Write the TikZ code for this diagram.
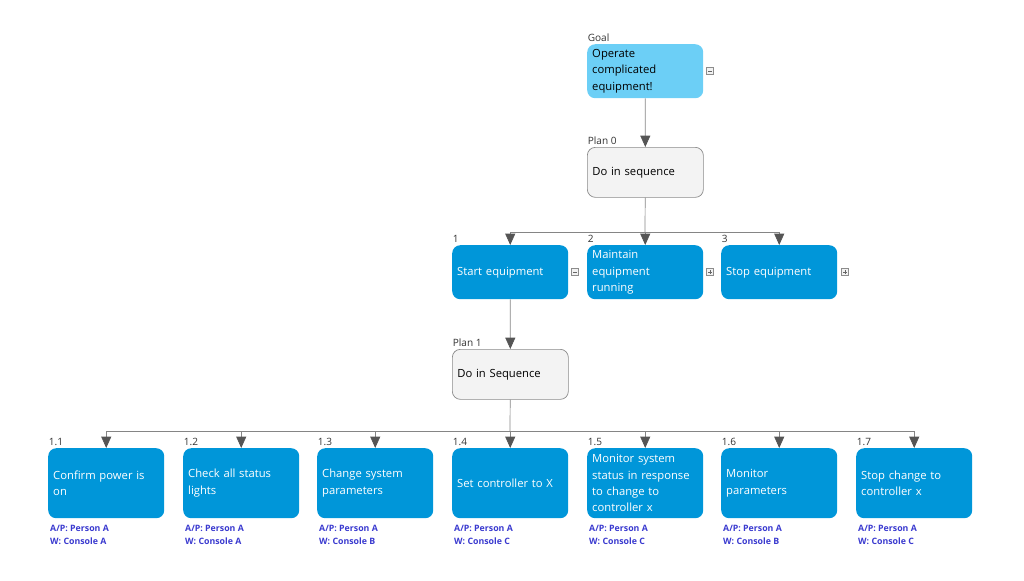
\documentclass[tikz,border=0pt]{standalone}
\usepackage{fontspec}
\setmainfont{Open Sans}
\usetikzlibrary{arrows.meta}
\definecolor{taskblue}{HTML}{0096D9}
\definecolor{goalblue}{HTML}{6CCFF6}
\definecolor{planfill}{HTML}{F3F3F3}
\definecolor{planline}{HTML}{8A8A8A}
\definecolor{linegray}{HTML}{858585}
\definecolor{tipgray}{HTML}{555555}
\definecolor{notecol}{HTML}{3A3ACF}
\tikzset{
  box/.style={rounded corners=0.24cm, anchor=north west, align=left, text width=3.18cm,
    inner xsep=0.15cm, inner ysep=0pt, minimum height=1.62cm, font=\fontsize{9.6}{14}\selectfont},
  task/.style={box, fill=taskblue, text=white},
  goal/.style={box, fill=goalblue, text=black},
  plan/.style={box, draw=planline, line width=0.6pt, fill=planfill, text=black, minimum height=1.5cm},
  tag/.style={anchor=south west, inner xsep=0.5pt, inner ysep=1.6pt, text=black!80, font=\fontsize{8.6}{10}\selectfont},
  note/.style={anchor=north west, inner sep=0pt, align=left, text=notecol, font=\fontsize{7.5}{11}\selectfont\bfseries},
  wire/.style={draw=linegray, line width=0.6pt},
  link/.style={wire, -{Triangle[width=0.3cm, length=0.34cm, color=tipgray]}},
  toggle/.style={draw=black!45, fill=black!5, minimum size=0.22cm, inner sep=0pt, line width=0.4pt},
  minus/.style={toggle, path picture={\draw[black!60] ([xshift=1.6pt]path picture bounding box.west) -- ([xshift=-1.6pt]path picture bounding box.east);}},
  plus/.style={toggle, path picture={\draw[black!60] ([xshift=1.6pt]path picture bounding box.west) -- ([xshift=-1.6pt]path picture bounding box.east);
    \draw[black!60] ([yshift=-1.6pt]path picture bounding box.north) -- ([yshift=1.6pt]path picture bounding box.south);}}
}
\begin{document}
\begin{tikzpicture}[x=0.03cm, y=-0.03cm]
   \useasboundingbox (0,0) rectangle (1024,580);

   \node[goal] (goal) at (587,44) {Operate\\complicated\\equipment!};
   \node[tag] at (goal.north west) {Goal};
   \node[minus] (goal-tog) at (710,71) {};

   \node[plan] (plan0) at (587,147) {Do in sequence};
   \node[tag] at (plan0.north west) {Plan 0};

   \node[task] (t1) at (452,245) {Start equipment};
   \node[task] (t2) at (587,245) {Maintain\\equipment\\running};
   \node[task] (t3) at (721,245) {Stop equipment};
   \node[tag] at (t1.north west) {1};
   \node[tag] at (t2.north west) {2};
   \node[tag] at (t3.north west) {3};
   \node[minus] (t1-tog) at (575,272) {};
   \node[plus] (t2-tog) at (710,272) {};
   \node[plus] (t3-tog) at (845,272) {};

   \node[plan] (plan1) at (452,349) {Do in Sequence};
   \node[tag] at (plan1.north west) {Plan 1};

   \node[task, minimum height=2.1cm] (s1) at (48,448) {Confirm power is\\on};
   \node[task, minimum height=2.1cm] (s2) at (183,448) {Check all status\\lights};
   \node[task, minimum height=2.1cm] (s3) at (317,448) {Change system\\parameters};
   \node[task, minimum height=2.1cm] (s4) at (452,448) {Set controller to X};
   \node[task, minimum height=2.1cm] (s5) at (587,448) {Monitor system\\status in response\\to change to\\controller x};
   \node[task, minimum height=2.1cm] (s6) at (721,448) {Monitor\\parameters};
   \node[task, minimum height=2.1cm] (s7) at (856,448) {Stop change to\\controller x};
   \node[tag] at (s1.north west) {1.1};
   \node[tag] at (s2.north west) {1.2};
   \node[tag] at (s3.north west) {1.3};
   \node[tag] at (s4.north west) {1.4};
   \node[tag] at (s5.north west) {1.5};
   \node[tag] at (s6.north west) {1.6};
   \node[tag] at (s7.north west) {1.7};

   \node[note] (n1) at ([xshift=0.06cm, yshift=-0.2cm]s1.south west) {A/P: Person A\\W: Console A};
   \node[note] (n2) at ([xshift=0.06cm, yshift=-0.2cm]s2.south west) {A/P: Person A\\W: Console A};
   \node[note] (n3) at ([xshift=0.06cm, yshift=-0.2cm]s3.south west) {A/P: Person A\\W: Console B};
   \node[note] (n4) at ([xshift=0.06cm, yshift=-0.2cm]s4.south west) {A/P: Person A\\W: Console C};
   \node[note] (n5) at ([xshift=0.06cm, yshift=-0.2cm]s5.south west) {A/P: Person A\\W: Console C};
   \node[note] (n6) at ([xshift=0.06cm, yshift=-0.2cm]s6.south west) {A/P: Person A\\W: Console B};
   \node[note] (n7) at ([xshift=0.06cm, yshift=-0.2cm]s7.south west) {A/P: Person A\\W: Console C};

   \coordinate (bus0) at (645,232);
   \coordinate (bus1) at (510,431);

   \draw[link] (goal) -- (plan0);
   \draw[wire] (plan0) -- (bus0);
   \draw[link] (bus0) -| (t1.north);
   \draw[link] (bus0) -| (t2.north);
   \draw[link] (bus0) -| (t3.north);
   \draw[link] (t1) -- (plan1);
   \draw[wire] (plan1) -- (bus1);
   \draw[link] (bus1) -| (s1.north);
   \draw[link] (bus1) -| (s2.north);
   \draw[link] (bus1) -| (s3.north);
   \draw[link] (bus1) -| (s4.north);
   \draw[link] (bus1) -| (s5.north);
   \draw[link] (bus1) -| (s6.north);
   \draw[link] (bus1) -| (s7.north);

\end{tikzpicture}
\end{document}
